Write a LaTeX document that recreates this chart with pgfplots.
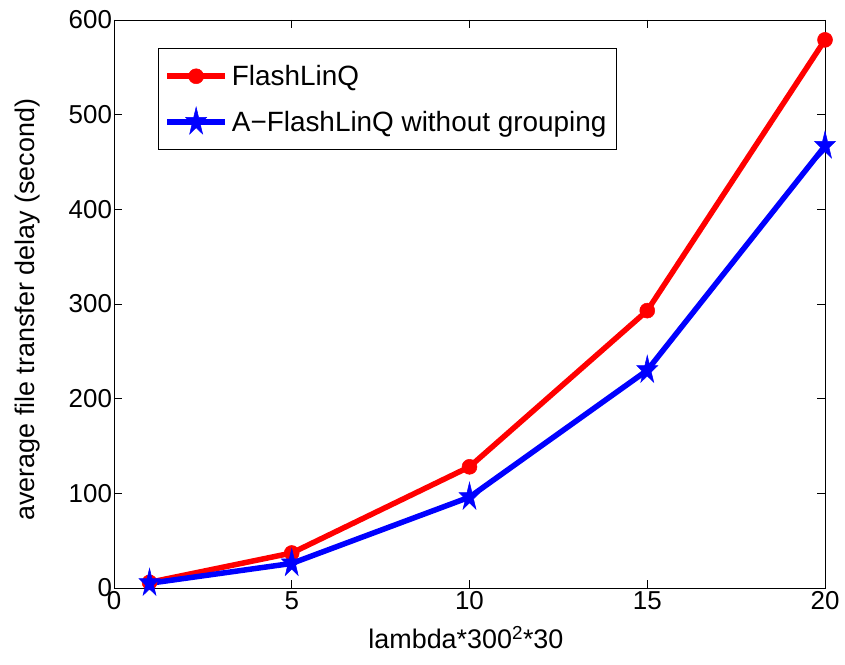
\documentclass[border=0pt]{standalone}
\usepackage{pgfplots}
\pgfplotsset{compat=1.18}
\usepackage{fontspec}
\setmainfont{Liberation Sans}
\pgfdeclareplotmark{fstar}{%
  \pgfpathmoveto{\pgfpointpolar{90}{\pgfplotmarksize}}%
  \pgfpathlineto{\pgfpointpolar{126}{0.382\pgfplotmarksize}}%
  \pgfpathlineto{\pgfpointpolar{162}{\pgfplotmarksize}}%
  \pgfpathlineto{\pgfpointpolar{198}{0.382\pgfplotmarksize}}%
  \pgfpathlineto{\pgfpointpolar{234}{\pgfplotmarksize}}%
  \pgfpathlineto{\pgfpointpolar{270}{0.382\pgfplotmarksize}}%
  \pgfpathlineto{\pgfpointpolar{306}{\pgfplotmarksize}}%
  \pgfpathlineto{\pgfpointpolar{342}{0.382\pgfplotmarksize}}%
  \pgfpathlineto{\pgfpointpolar{18}{\pgfplotmarksize}}%
  \pgfpathlineto{\pgfpointpolar{54}{0.382\pgfplotmarksize}}%
  \pgfpathclose\pgfusepathqfillstroke}
\begin{document}
\begin{tikzpicture}
\begin{axis}[
  scale only axis, width=711bp, height=568bp,
  xmin=0, xmax=20, ymin=0, ymax=600,
  xtick={0,5,10,15,20}, ytick={0,100,200,300,400,500,600},
  tick align=inside, major tick length=8bp,
  tick style={black, line width=0.7bp},
  axis line style={black, line width=0.9bp},
  /pgf/number format/assume math mode=true,
  ticklabel style={font=\fontsize{26}{30}\selectfont},
  yticklabel style={xshift=1.5bp},
  xlabel={lambda*300\textsuperscript{2}*30},
  ylabel={average file transfer delay (second)},
  label style={font=\fontsize{27}{31}\selectfont},
  xlabel style={at={(rel axis cs:0.495,-0.1056)}, anchor=base},
  ylabel style={at={(rel axis cs:-0.121,0.49)}, anchor=center},
  legend cell align=left,
  legend style={at={(rel axis cs:0.0619,0.9507)}, anchor=north west,
    font=\fontsize{28}{32}\selectfont, draw=black, line width=0.8bp,
    inner xsep=6bp, inner ysep=13bp, row sep=16bp,
    nodes={inner xsep=4bp, inner ysep=4bp}},
  legend image code/.code={\draw[#1, mark repeat=2, mark phase=2] plot coordinates {(0bp,0bp) (29bp,0bp) (58bp,0bp)};},
]
\addplot[red, line width=5.5bp, mark=*, mark size=7.5bp, mark options={solid, line width=0.5bp}]
  coordinates {(1,6) (5,37) (10,128) (15,293) (20,579)};
\addlegendentry{FlashLinQ}
\addplot[blue, line width=5.5bp, mark=fstar, mark size=11bp, mark options={solid, line width=0.5bp, yscale=1.35}]
  coordinates {(1,5) (5,26) (10,96) (15,230) (20,467)};
\addlegendentry{A\textminus FlashLinQ without grouping}
\coordinate (bbl) at (rel axis cs:-0.1603,-0.1338);
\coordinate (btr) at (rel axis cs:1.0281,1.0352);
\end{axis}
\pgfresetboundingbox
\path[use as bounding box] (bbl) rectangle (btr);
\end{tikzpicture}
\end{document}
